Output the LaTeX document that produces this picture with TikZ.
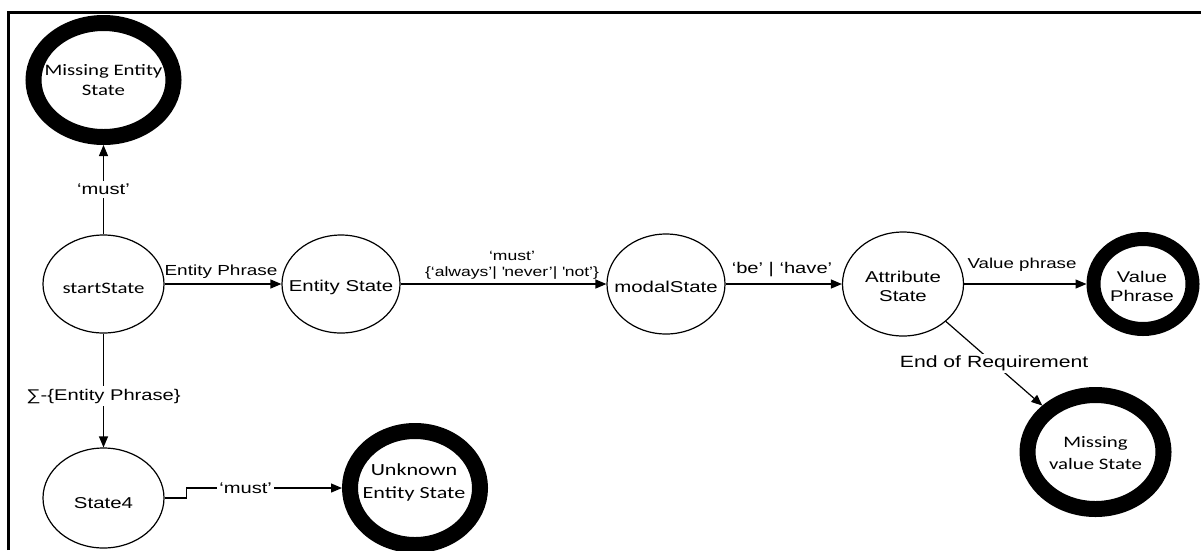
\documentclass[tikz,border=0pt]{standalone}
\usepackage{fontspec}
\usetikzlibrary{shapes.geometric,arrows.meta}
\newfontfamily\arialf[FakeStretch=1.3]{Liberation Sans}
\newfontfamily\calf[FakeStretch=1.3]{Carlito}
% straight apostrophe, bypassing the TeX quote mapping
\newcommand\sq{{\XeTeXglyph\XeTeXcharglyph"27\relax}}
\newcommand\fs[1]{\fontsize{#1}{#1}\selectfont}

\begin{document}
\begin{tikzpicture}[x=1pt,y=-1pt,
  line width=1.2pt,
  >={Triangle[length=11pt,width=9pt]},
  state/.style={ellipse,draw,line width=1.2pt,inner sep=0pt},
  final/.style={ellipse,draw,line width=16pt,inner sep=0pt,outer sep=8pt},
  txt/.style={align=center,inner sep=0pt},
  cut/.style={fill=white,inner sep=3pt},
  above lbl/.style={anchor=south,inner sep=0pt,align=center}
]
\useasboundingbox (0,0) rectangle (1201,550);

% frame
\draw[line width=3pt] (8,550) -- (8,12) -- (1201,12);

% states
\node[final,minimum width=140pt,minimum height=114pt] (mes) at (103.5,80) {};
\node[state,minimum width=121pt,minimum height=98pt] (start) at (103.5,284) {};
\node[state,minimum width=118pt,minimum height=98pt] (es) at (341,284) {};
\node[state,minimum width=118pt,minimum height=100pt] (modal) at (666,284) {};
\node[state,minimum width=121pt,minimum height=104pt] (attr) at (903,284) {};
\node[final,line width=14pt,outer sep=7pt,minimum width=99pt,minimum height=90pt] (vp) at (1143,284) {};
\node[final,minimum width=136pt,minimum height=114pt] (mvs) at (1095.5,452) {};
\node[state,minimum width=121pt,minimum height=100pt] (s4) at (103.5,498) {};
\node[final,minimum width=130pt,minimum height=114pt] (ues) at (415,488) {};

% state texts
\node[txt,font=\calf\fontsize{16}{20}\selectfont] (mes-t) at (103.5,80) {Missing Entity\\State};
\node[txt,font=\calf\fs{16}] (start-t) at (103.5,288) {startState};
\node[txt,font=\arialf\fs{15.7}] (es-t) at (341,287) {Entity State};
\node[txt,font=\arialf\fs{15.7}] (modal-t) at (666,287) {modalState};
\node[txt,font=\arialf\fontsize{15.7}{19}\selectfont] (attr-t) at (903,286) {Attribute\\State};
\node[txt,font=\arialf\fontsize{15.5}{19}\selectfont] (vp-t) at (1142,286) {Value\\Phrase};
\node[txt,font=\calf\fontsize{16}{22}\selectfont] (mvs-t) at (1095.5,453) {Missing\\value State};
\node[txt,font=\arialf\fs{15.7}] (s4-t) at (103.5,503) {State4};
\node[txt,font=\calf\fontsize{17}{23}\selectfont] (ues-t) at (414,482) {Unknown\\Entity State};

% transitions
\draw[->] (start) -- node[cut,font=\arialf\fs{15.5}] (l1) {‘must’} (mes);
\draw[->] (start) -- (es);
\node[above lbl,font=\arialf\fs{14.6}] (l2) at (221,279) {Entity Phrase};
\draw[->] (es) -- (modal);
\node[above lbl,font=\arialf\fontsize{13.5}{16.5}\selectfont] (l3) at (512,280)
  {‘must’\\\{‘always’| \sq never’| \sq not’\}};
\draw[->] (modal) -- (attr);
\node[above lbl,font=\arialf\fs{15.5}] (l4) at (782,277) {‘be’ | ‘have’};
\draw[->] (attr) -- (vp);
\node[above lbl,font=\arialf\fs{14.4}] (l5) at (1022,272) {Value phrase};
\draw[->] (attr) -- node[cut,inner sep=2pt,font=\arialf\fs{16.3}] (l6) {End of Requirement} (mvs);
\draw[->] (start) -- node[cut,pos=0.55,font=\arialf\fs{15.5}] (l7) {∑-\{Entity Phrase\}} (s4);
\draw[->] (s4.east) -- ++(22,0) |- node[cut,pos=0.69,inner sep=2pt,font=\arialf\fs{15.5}] (l8) {‘must’} (ues.west);
\end{tikzpicture}
\end{document}
